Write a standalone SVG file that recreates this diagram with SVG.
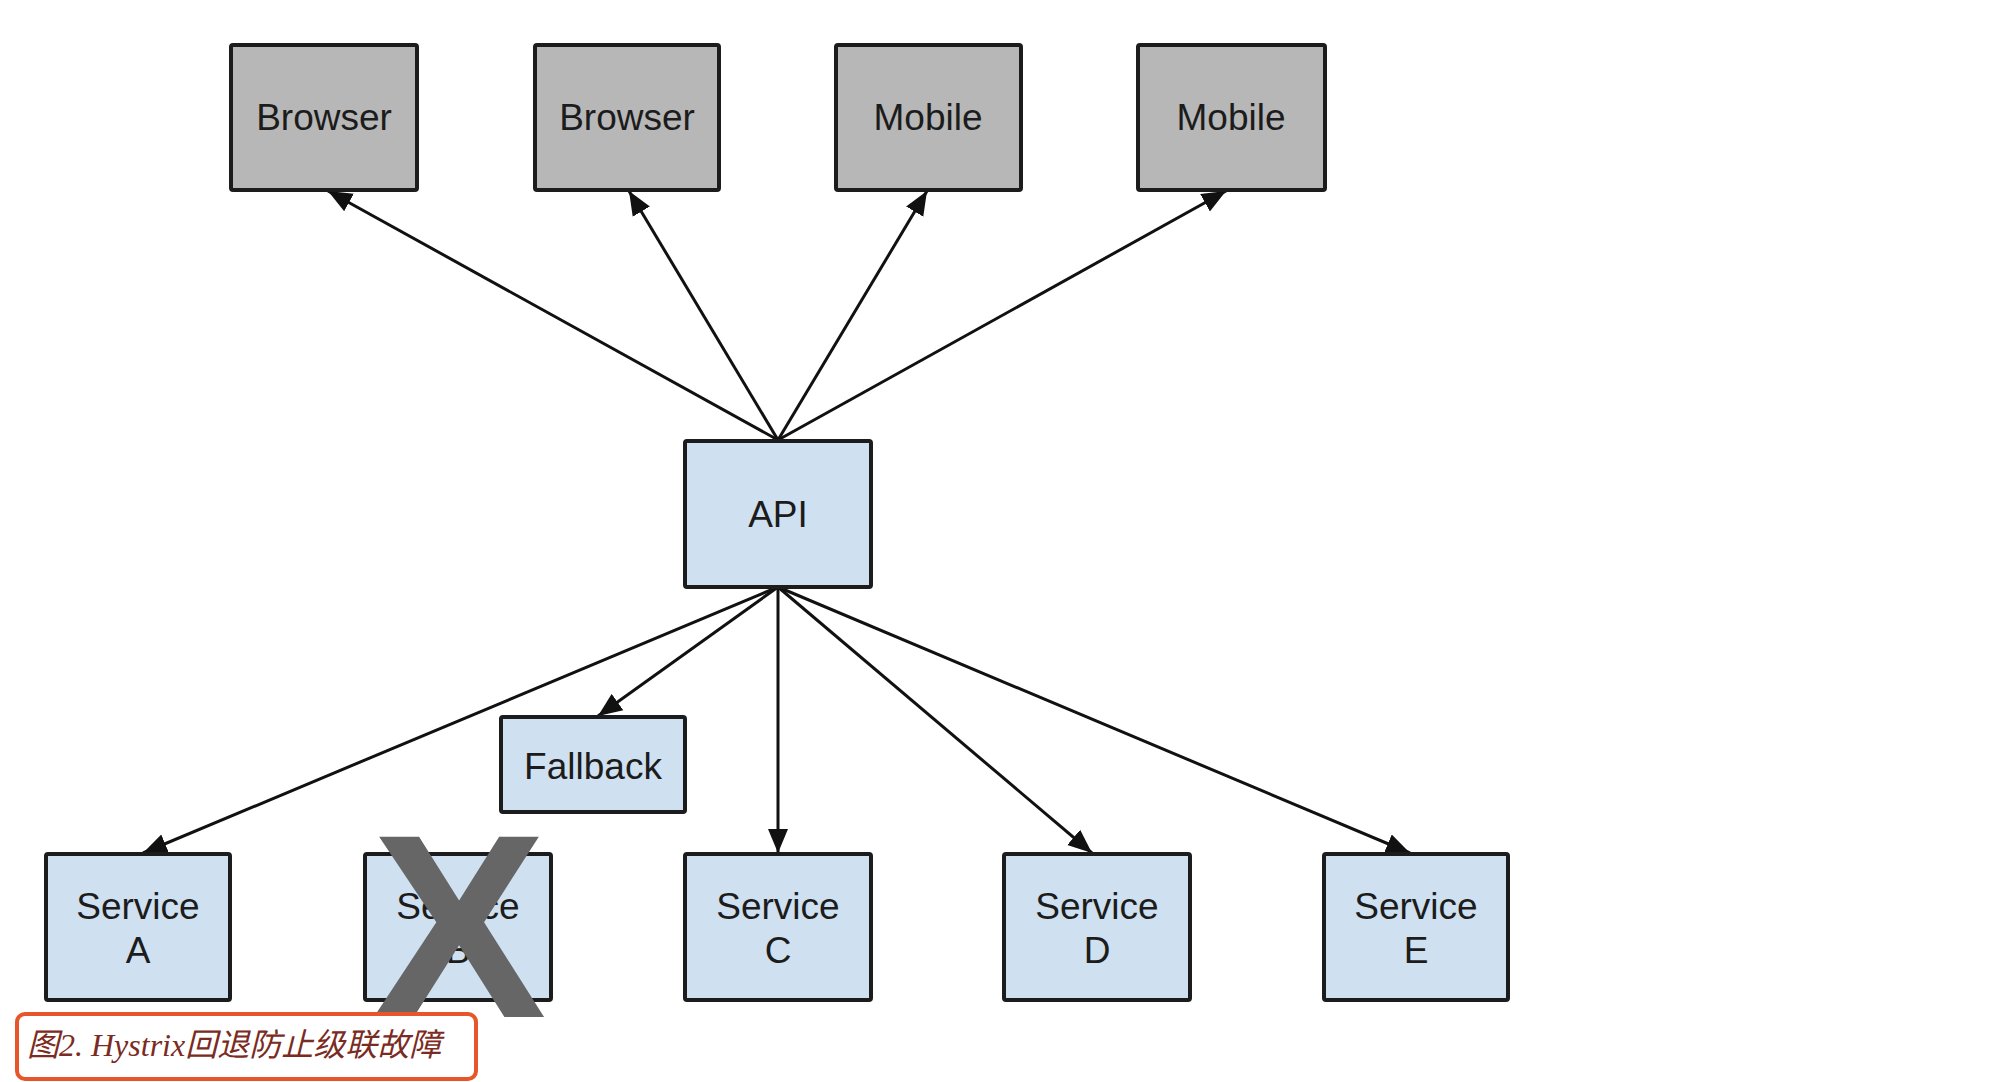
<svg xmlns="http://www.w3.org/2000/svg" width="1996" height="1082" viewBox="0 0 1996 1082">
  <style>
    .box { stroke: #1c1c1c; stroke-width: 4; }
    .gray { fill: #b7b7b7; }
    .blue { fill: #cfe0f0; }
    .lbl { font-family: "Liberation Sans", Arial, sans-serif; font-size: 37px; fill: #1c1c1c; text-anchor: middle; }
    .edge { stroke: #111; stroke-width: 3; fill: none; marker-end: url(#arrow); }
    .cap { font-family: "Liberation Serif", "Noto Sans CJK SC", serif; font-style: italic; font-size: 32px; fill: #7a2b22; }
  </style>
  <defs>
    <marker id="arrow" markerUnits="userSpaceOnUse" markerWidth="26" markerHeight="22" refX="24" refY="11" orient="auto">
      <path d="M0,1 L24,11 L0,21 z" fill="#111"/>
    </marker>
  </defs>
  <rect width="1996" height="1082" fill="#ffffff"/>

  <g id="connectors">
    <line class="edge" x1="778" y1="440" x2="328" y2="191"/>
    <line class="edge" x1="778" y1="440" x2="629" y2="191"/>
    <line class="edge" x1="778" y1="440" x2="927" y2="191"/>
    <line class="edge" x1="778" y1="440" x2="1226" y2="191"/>
    <line class="edge" x1="778" y1="587" x2="143" y2="853"/>
    <line class="edge" x1="778" y1="587" x2="598" y2="716"/>
    <line class="edge" x1="778" y1="587" x2="778" y2="853"/>
    <line class="edge" x1="778" y1="587" x2="1092" y2="853"/>
    <line class="edge" x1="778" y1="587" x2="1410" y2="853"/>
  </g>

  <g id="browser1">
    <rect class="box gray" x="231" y="45" width="186" height="145" rx="2"/>
    <text class="lbl" x="324" y="130">Browser</text>
  </g>
  <g id="browser2">
    <rect class="box gray" x="535" y="45" width="184" height="145" rx="2"/>
    <text class="lbl" x="627" y="130">Browser</text>
  </g>
  <g id="mobile1">
    <rect class="box gray" x="836" y="45" width="185" height="145" rx="2"/>
    <text class="lbl" x="928" y="130">Mobile</text>
  </g>
  <g id="mobile2">
    <rect class="box gray" x="1138" y="45" width="187" height="145" rx="2"/>
    <text class="lbl" x="1231" y="130">Mobile</text>
  </g>

  <g id="api">
    <rect class="box blue" x="685" y="441" width="186" height="146" rx="2"/>
    <text class="lbl" x="778" y="527">API</text>
  </g>

  <g id="fallback">
    <rect class="box blue" x="501" y="717" width="184" height="95" rx="2"/>
    <text class="lbl" x="593" y="779">Fallback</text>
  </g>

  <g id="serviceA">
    <rect class="box blue" x="46" y="854" width="184" height="146" rx="2"/>
    <text class="lbl" x="138" y="919">Service</text>
    <text class="lbl" x="138" y="963">A</text>
  </g>
  <g id="serviceB">
    <rect class="box blue" x="365" y="854" width="186" height="146" rx="2"/>
    <text class="lbl" x="458" y="919">Service</text>
    <text class="lbl" x="458" y="963">B</text>
  </g>
  <g id="serviceC">
    <rect class="box blue" x="685" y="854" width="186" height="146" rx="2"/>
    <text class="lbl" x="778" y="919">Service</text>
    <text class="lbl" x="778" y="963">C</text>
  </g>
  <g id="serviceD">
    <rect class="box blue" x="1004" y="854" width="186" height="146" rx="2"/>
    <text class="lbl" x="1097" y="919">Service</text>
    <text class="lbl" x="1097" y="963">D</text>
  </g>
  <g id="serviceE">
    <rect class="box blue" x="1324" y="854" width="184" height="146" rx="2"/>
    <text class="lbl" x="1416" y="919">Service</text>
    <text class="lbl" x="1416" y="963">E</text>
  </g>

  <g id="failed-mark">
    <text x="459" y="1017" font-family="Liberation Sans, Arial, sans-serif" font-weight="bold" font-size="262" fill="#666666" text-anchor="middle">X</text>
  </g>

  <g id="caption">
    <rect x="17" y="1014" width="459" height="65" rx="8" fill="#ffffff" stroke="#e8552b" stroke-width="4"/>
    <text class="cap" x="27" y="1056">图2. Hystrix回退防止级联故障</text>
  </g>
</svg>
